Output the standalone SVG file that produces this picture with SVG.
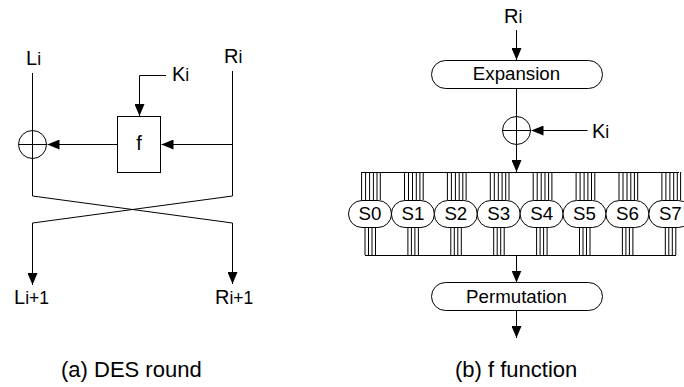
<svg xmlns="http://www.w3.org/2000/svg" width="684" height="387" viewBox="0 0 684 387">
<style>
text{font-family:"Liberation Sans",Arial,sans-serif;fill:#000}
.l{font-size:20px}.sub{font-size:17.500px}.m{font-size:22px}.s{font-size:18.700px;text-anchor:middle}
.f{font-size:20px;text-anchor:middle}
.c{fill:none;stroke:#000;stroke-width:1}
.n{fill:#fff;stroke:#000;stroke-width:1}
</style>
<defs>
<marker id="a" markerUnits="userSpaceOnUse" markerWidth="12" markerHeight="10" refX="12" refY="5" orient="auto"><path d="M0 0L12 5L0 10Z" fill="#000"/></marker>
<path id="top" class="c" d="M-8.400 172V200M-4.400 172V200M-.4 172V200M3.400 172V200M7 172V200M10.300 172V200"/>
<path id="bot" class="c" d="M-5 227V255M-1.500 227V255M2 227V255M5.500 227V255"/>
<rect id="pill" class="n" x="-21.500" y="200.500" width="43" height="27" rx="13.500"/>
</defs>
<g id="connectors">
<path class="c" d="M32.500 73V196L232.500 223V284" marker-end="url(#a)"/>
<path class="c" d="M232.500 71V196L32.500 223V285" marker-end="url(#a)"/>
<path class="c" d="M166 75.500H139.500V116" marker-end="url(#a)"/>
<path class="c" d="M117 144.500H47.500" marker-end="url(#a)"/>
<path class="c" d="M232 144.500H161.500" marker-end="url(#a)"/>
<path class="c" d="M516.500 30V60" marker-end="url(#a)"/>
<path class="c" d="M516.500 88V172" marker-end="url(#a)"/>
<path class="c" d="M587.500 130.500H531.500" marker-end="url(#a)"/>
<path class="c" d="M516.500 255V282.500" marker-end="url(#a)"/>
<path class="c" d="M516.500 310V338" marker-end="url(#a)"/>
<path class="c" d="M361 172.500H679M365 255.500H676"/>
</g>
<g id="xor-left"><circle class="n" cx="32.500" cy="144.500" r="14"/><path class="c" d="M18.500 144.500H46.500M32.500 130.500V158.500"/></g>
<g id="f-box"><rect class="n" x="117.500" y="116.500" width="43" height="56"/><text class="f" x="139" y="150">f</text></g>
<g id="xor-right"><circle class="n" cx="516.500" cy="130.500" r="14"/><path class="c" d="M502.500 130.500H530.500M516.500 116.500V144.500"/></g>
<g id="expansion"><rect class="n" x="431.500" y="60.500" width="171" height="28" rx="14"/><text class="s" x="516.500" y="80">Expansion</text></g>
<g id="permutation"><rect class="n" x="431.500" y="282.500" width="171" height="28" rx="14"/><text class="s" x="516.500" y="303">Permutation</text></g>
<g id="s0" transform="translate(370 0)"><use href="#top"/><use href="#bot"/><use href="#pill"/><text class="s" y="220">S0</text></g>
<g id="s1" transform="translate(412.900 0)"><use href="#top"/><use href="#bot"/><use href="#pill"/><text class="s" y="220">S1</text></g>
<g id="s2" transform="translate(455.800 0)"><use href="#top"/><use href="#bot"/><use href="#pill"/><text class="s" y="220">S2</text></g>
<g id="s3" transform="translate(498.700 0)"><use href="#top"/><use href="#bot"/><use href="#pill"/><text class="s" y="220">S3</text></g>
<g id="s4" transform="translate(541.600 0)"><use href="#top"/><use href="#bot"/><use href="#pill"/><text class="s" y="220">S4</text></g>
<g id="s5" transform="translate(584.500 0)"><use href="#top"/><use href="#bot"/><use href="#pill"/><text class="s" y="220">S5</text></g>
<g id="s6" transform="translate(627.400 0)"><use href="#top"/><use href="#bot"/><use href="#pill"/><text class="s" y="220">S6</text></g>
<g id="s7" transform="translate(670.300 0)"><use href="#top"/><use href="#bot"/><use href="#pill"/><text class="s" y="220">S7</text></g>
<g id="label-li"><text class="l" x="26" y="65">L<tspan class="sub">i</tspan></text></g>
<g id="label-ri"><text class="l" x="224" y="63">R<tspan class="sub">i</tspan></text></g>
<g id="label-ki"><text class="l" x="172" y="81">K<tspan class="sub">i</tspan></text></g>
<g id="label-li1"><text class="l" x="14" y="304">L<tspan class="sub">i+1</tspan></text></g>
<g id="label-ri1"><text class="l" x="215" y="304">R<tspan class="sub">i+1</tspan></text></g>
<g id="label-ri2"><text class="l" x="504" y="23">R<tspan class="sub">i</tspan></text></g>
<g id="label-ki2"><text class="l" x="592" y="138">K<tspan class="sub">i</tspan></text></g>
<g id="cap-a"><text class="m" x="61" y="377">(a) DES round</text></g>
<g id="cap-b"><text class="m" x="455" y="377">(b) f function</text></g>
</svg>
